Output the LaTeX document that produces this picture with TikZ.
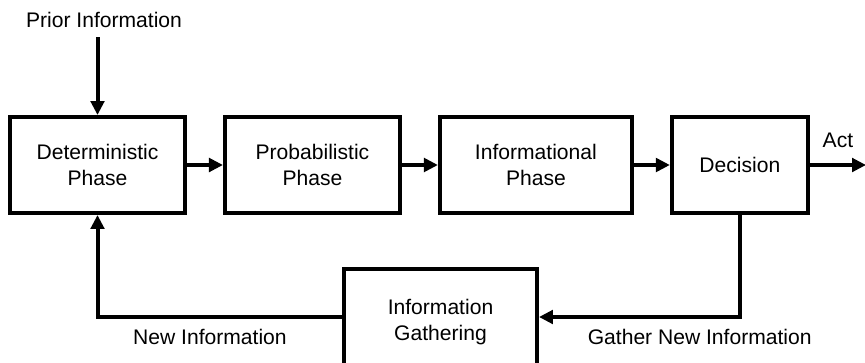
\documentclass[tikz,border=0pt]{standalone}
\usepackage{fontspec}
\setmainfont{Liberation Sans}
\usetikzlibrary{arrows.meta,positioning}

\begin{document}
\begin{tikzpicture}[x=0.02cm,y=-0.02cm,
box/.style={draw,line width=0.08cm,align=center,minimum height=1.92cm,minimum width=3.5cm,font=\fontsize{12}{15}\selectfont},
lbl/.style={font=\fontsize{12}{15}\selectfont},
arrow/.style={-{Triangle[length=0.28cm,width=0.27cm]},line width=0.08cm}
]
\useasboundingbox (0,0) rectangle (865,362);
\node[box] (det) at (97.5,165) {Deterministic\\Phase};
\node[box,right=0.72cm of det] (prob) {Probabilistic\\Phase};
\node[box,minimum width=3.84cm,right=0.72cm of prob] (info) {Informational\\Phase};
\node[box,minimum width=2.72cm,right=0.72cm of info] (dec) {Decision};
\node[box,minimum width=3.86cm,minimum height=2.12cm] (gath) at (440.5,322) {Information\\Gathering};
\node[lbl] (prior) at (104,20) {Prior Information};
\coordinate (pin) at (97.5,37);
\coordinate (act) at (866,165);
\draw[arrow] (pin) -- (det);
\draw[arrow] (det) -- (prob);
\draw[arrow] (prob) -- (info);
\draw[arrow] (info) -- (dec);
\draw[arrow] (dec) -- (act) node[midway,above=0.19cm,lbl] {Act};
\draw[arrow] (dec.south) |- ([yshift=0.1cm]gath.east) node[pos=0.6,below=0.09cm,lbl] {Gather New Information};
\draw[arrow] ([yshift=0.1cm]gath.west) -| (det.south) node[pos=0.27,below=0.09cm,lbl] {New Information};
\end{tikzpicture}
\end{document}
